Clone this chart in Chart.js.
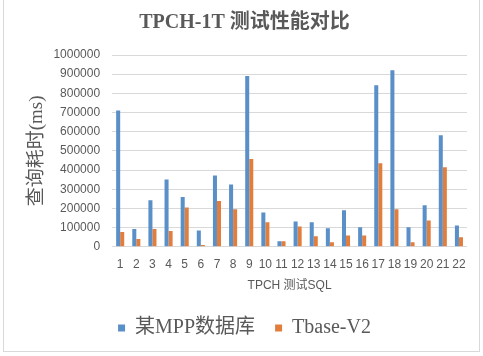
<!DOCTYPE html>
<html>
<head>
<meta charset="utf-8">
<script src="https://cdn.jsdelivr.net/npm/chart.js@4/dist/chart.umd.min.js"></script>
<style>
  html, body { margin: 0; padding: 0; background: #ffffff; }
  #frame { position: absolute; left: 3px; top: -2px; width: 477px; height: 354px; border: 1px solid #d9d9d9; box-sizing: border-box; }
  #wrap { position: absolute; left: 0; top: 0; width: 483px; height: 356px; }
</style>
</head>
<body>
<div id="frame"></div>
<div id="wrap"><canvas id="c" width="483" height="356"></canvas></div>
<script>
const categories = ["1","2","3","4","5","6","7","8","9","10","11","12","13","14","15","16","17","18","19","20","21","22"];
const mppValues = [711000, 92000, 242000, 351000, 259000, 85000, 372000, 325000, 890000, 179000, 28000, 132000, 127000, 96000, 190000, 101000, 842000, 920000, 101000, 216000, 581000, 111000];
const tbaseValues = [76500, 40000, 92000, 82000, 205000, 9000, 238000, 195000, 457000, 127000, 28000, 106000, 54000, 23000, 59000, 59000, 435000, 195000, 23000, 137000, 414000, 49000];
const seriesNames = ["某MPP数据库", "Tbase-V2"];
const yTicks = [0, 100000, 200000, 300000, 400000, 500000, 600000, 700000, 800000, 900000, 1000000];

const gray = '#595959';
const serif = "'Liberation Serif', 'Noto Sans CJK SC', serif";
const sans = "'Liberation Sans', 'Noto Sans CJK SC', sans-serif";

new Chart(document.getElementById('c'), {
  type: 'bar',
  data: {
    labels: categories,
    datasets: [
      { label: seriesNames[0], data: mppValues, backgroundColor: '#5B8FC7', borderWidth: 0 },
      { label: seriesNames[1], data: tbaseValues, backgroundColor: '#E27D3C', borderWidth: 0 }
    ]
  },
  options: {
    responsive: false,
    animation: false,
    devicePixelRatio: 1,
    layout: { padding: { left: 22, right: 16, top: 0, bottom: 8 } },
    datasets: { bar: { categoryPercentage: 0.5, barPercentage: 1.0 } },
    plugins: {
      title: {
        display: true,
        text: 'TPCH-1T 测试性能对比',
        color: gray,
        font: { family: serif, size: 20, weight: 'bold' },
        padding: { top: 11, bottom: 20 }
      },
      legend: {
        display: true,
        position: 'bottom',
        labels: {
          color: gray,
          font: { family: serif, size: 20 },
          boxWidth: 7,
          boxHeight: 7,
          padding: 20
        }
      },
      tooltip: { enabled: false }
    },
    scales: {
      x: {
        grid: { display: false, drawTicks: false },
        border: { display: false },
        ticks: { color: gray, font: { family: sans, size: 12 }, autoSkip: false, maxRotation: 0, minRotation: 0, padding: 11 },
        title: { display: true, text: 'TPCH 测试SQL', color: gray, font: { family: sans, size: 12 }, padding: { top: -5, bottom: 5.5 } }
      },
      y: {
        min: 0,
        max: 1000000,
        afterBuildTicks: (axis) => { axis.ticks = yTicks.map(v => ({ value: v })); },
        grid: { color: '#d9d9d9', lineWidth: 1, drawTicks: false },
        border: { display: false },
        ticks: { color: gray, font: { family: sans, size: 12 }, padding: 12, callback: (v) => String(v) },
        title: { display: true, text: '查询耗时(ms)', color: gray, font: { family: serif, size: 19 }, padding: { top: 3.6, bottom: -7 } }
      }
    }
  }
});
</script>
</body>
</html>
